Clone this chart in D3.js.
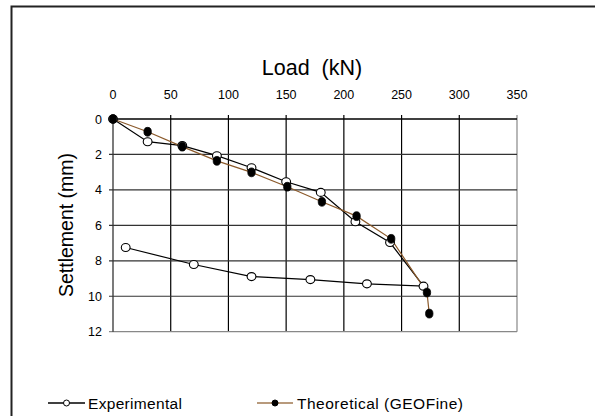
<!DOCTYPE html>
<html><head><meta charset="utf-8">
<script src="https://cdn.jsdelivr.net/npm/d3@7/dist/d3.min.js"></script>
<style>body{margin:0;background:#fff;} svg{display:block;font-family:"Liberation Sans",Arial,sans-serif;}</style>
</head><body>
<svg id="c" width="595" height="416"></svg>
<script>
const xTicks = [0,50,100,150,200,250,300,350];
const yTicks = [0,2,4,6,8,10,12];
const expLoad = [0,30,60,90,120,150,180,210,240,269,220,171,120,70,11];
const expSettle = [0,1.28,1.5,2.07,2.75,3.54,4.14,5.8,6.97,9.43,9.3,9.06,8.89,8.21,7.25];
const thLoad = [0,30,60,90,120,151,181,211,241,272,274];
const thSettle = [0,0.72,1.56,2.36,3.01,3.82,4.67,5.48,6.76,9.79,10.98];
const seriesNames = ["Experimental","Theoretical (GEOFine)"];

const svg = d3.select("#c");
const x = d3.scaleLinear().domain([0,350]).range([113,517]);
const y = d3.scaleLinear().domain([0,12]).range([119,331.7]);

// outer frame
svg.append("path").attr("d","M11.5,420 V6.5 H600").attr("fill","none").attr("stroke","#222").attr("stroke-width",2);

// grid
svg.append("g").selectAll("line").data(xTicks.slice(1)).join("line")
  .attr("x1",d=>x(d)).attr("x2",d=>x(d)).attr("y1",y(0)-4).attr("y2",y(12))
  .attr("stroke",d=>d===350?"#888":"#000").attr("stroke-width",1.2);
svg.append("g").selectAll("line").data(yTicks.slice(1)).join("line")
  .attr("x1",x(0)-4).attr("x2",x(350)).attr("y1",d=>y(d)).attr("y2",d=>y(d))
  .attr("stroke",d=>d===12?"#888":"#333").attr("stroke-width",1.2);
// top & left axis lines
svg.append("line").attr("x1",x(0)).attr("x2",x(350)).attr("y1",y(0)).attr("y2",y(0)).attr("stroke","#000").attr("stroke-width",1.3);
svg.append("line").attr("x1",x(0)).attr("x2",x(0)).attr("y1",y(0)-4).attr("y2",y(12)).attr("stroke","#333").attr("stroke-width",1.3);
svg.append("line").attr("x1",x(0)-4).attr("x2",x(0)).attr("y1",y(0)).attr("y2",y(0)).attr("stroke","#000").attr("stroke-width",1.2);

// tick labels
svg.append("g").selectAll("text").data(xTicks).join("text")
  .attr("x",d=>x(d)).attr("y",98.5).attr("text-anchor","middle").attr("font-size",12.5).attr("fill","#000").text(d=>d);
svg.append("g").selectAll("text").data(yTicks).join("text")
  .attr("x",102).attr("y",d=>y(d)+4.5).attr("text-anchor","end").attr("font-size",12.5).attr("fill","#000").text(d=>d);

// titles
svg.append("text").attr("x",312).attr("y",75).attr("text-anchor","middle").attr("font-size",21.5).attr("fill","#000")
  .attr("xml:space","preserve").style("white-space","pre").text("Load  (kN)");
svg.append("text").attr("transform","translate(73,225) rotate(-90)").attr("text-anchor","middle").attr("font-size",19.5).attr("fill","#000").text("Settlement (mm)");

const brown = "#8B5A2B";
const line = d3.line().x(d=>x(d[0])).y(d=>y(d[1]));
const expData = expLoad.map((v,i)=>[v,expSettle[i]]);
const thData = thLoad.map((v,i)=>[v,thSettle[i]]);

svg.append("path").datum(expData).attr("d",line).attr("fill","none").attr("stroke","#000").attr("stroke-width",1.2);
svg.append("path").datum(thData).attr("d",line).attr("fill","none").attr("stroke",brown).attr("stroke-width",1.2);

svg.append("g").selectAll("ellipse").data(expData).join("ellipse")
  .attr("cx",d=>x(d[0])).attr("cy",d=>y(d[1])).attr("rx",4.4).attr("ry",4)
  .attr("fill","#fff").attr("stroke","#000").attr("stroke-width",1.1);
svg.append("g").selectAll("ellipse").data(thData).join("ellipse")
  .attr("cx",d=>x(d[0])).attr("cy",d=>y(d[1])).attr("rx",3.7).attr("ry",4.4)
  .attr("fill","#000").attr("stroke","#000").attr("stroke-width",0.8);

// legend
const lg = svg.append("g");
const leg = [{x0:48,x1:85,tx:88,c:"#000",fill:"#fff",tl:94},{x0:257,x1:293,tx:297,c:"#a07850",fill:"#000",tl:166}];
leg.forEach((l,i)=>{
  lg.append("line").attr("x1",l.x0).attr("x2",l.x1).attr("y1",403).attr("y2",403).attr("stroke",l.c).attr("stroke-width",1.3);
  lg.append("circle").attr("cx",(l.x0+l.x1)/2).attr("cy",403).attr("r",3).attr("fill",l.fill).attr("stroke","#000").attr("stroke-width",1);
  lg.append("text").attr("x",l.tx).attr("y",408.5).attr("font-size",15.5).attr("fill","#000").attr("textLength",l.tl).text(seriesNames[i]);
});
</script>
</body></html>
